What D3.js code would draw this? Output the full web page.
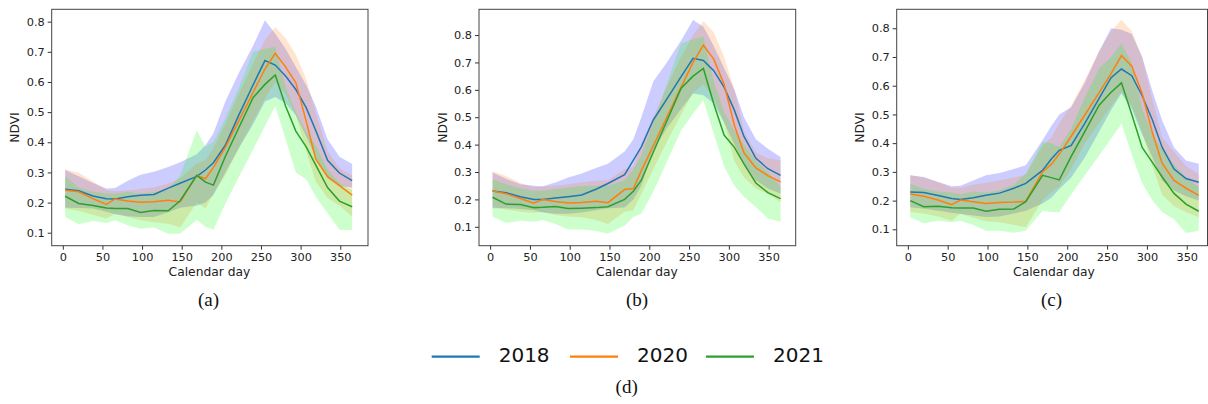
<!DOCTYPE html>
<html>
<head>
<meta charset="utf-8">
<script src="https://cdn.jsdelivr.net/npm/d3@7"></script>
<style>
  body { margin: 0; background: #fff; }
  svg { display: block; }
</style>
</head>
<body>
<div id="chart"></div>
<script>
const width = 1208
const height = 404

// calendar days of the composites (same for every panel)
const days = [3, 20, 38, 55, 66, 82, 98, 115, 133, 148, 169, 180, 190, 205, 222, 240, 255, 268, 281, 294, 307, 319, 334, 349, 365]
const years = ["2018", "2020", "2021"]
const xTicks = [0, 50, 100, 150, 200, 250, 300, 350]
const yTicks = [0.1, 0.2, 0.3, 0.4, 0.5, 0.6, 0.7, 0.8]
const captions = ["(a)", "(b)", "(c)"]

// panel (a): mean NDVI and band (lo / hi)
const a2018   = [0.244,0.239,0.222,0.213,0.212,0.219,0.224,0.227,0.248,0.264,0.287,0.308,0.332,0.39,0.49,0.59,0.671,0.656,0.62,0.575,0.515,0.44,0.34,0.298,0.273]
const a2018Lo = [0.183,0.182,0.18,0.17,0.161,0.155,0.152,0.152,0.168,0.183,0.19,0.2,0.225,0.3,0.38,0.46,0.535,0.55,0.53,0.49,0.42,0.35,0.28,0.255,0.25]
const a2018Hi = [0.308,0.287,0.265,0.247,0.248,0.272,0.292,0.302,0.318,0.334,0.36,0.39,0.43,0.535,0.63,0.72,0.805,0.76,0.71,0.65,0.59,0.52,0.41,0.352,0.328]
const a2020   = [0.241,0.236,0.213,0.194,0.212,0.205,0.201,0.203,0.208,0.202,0.29,0.279,0.317,0.383,0.471,0.565,0.643,0.695,0.65,0.597,0.47,0.345,0.286,0.256,0.225]
const a2020Lo = [0.18,0.172,0.16,0.147,0.163,0.152,0.141,0.135,0.13,0.117,0.2,0.18,0.23,0.29,0.38,0.47,0.545,0.6,0.56,0.49,0.37,0.27,0.215,0.19,0.153]
const a2020Hi = [0.31,0.299,0.27,0.241,0.238,0.24,0.245,0.25,0.263,0.28,0.33,0.34,0.38,0.46,0.56,0.66,0.74,0.782,0.745,0.69,0.61,0.5,0.37,0.315,0.29]
const a2021   = [0.221,0.197,0.19,0.182,0.18,0.18,0.167,0.174,0.173,0.206,0.29,0.268,0.258,0.353,0.448,0.548,0.592,0.623,0.52,0.437,0.385,0.325,0.25,0.205,0.186]
const a2021Lo = [0.152,0.128,0.139,0.132,0.141,0.125,0.113,0.117,0.097,0.097,0.142,0.12,0.11,0.196,0.284,0.376,0.454,0.52,0.41,0.3,0.277,0.22,0.165,0.11,0.108]
const a2021Hi = [0.288,0.25,0.236,0.23,0.23,0.236,0.23,0.235,0.245,0.29,0.44,0.385,0.4,0.48,0.58,0.7,0.71,0.717,0.585,0.5,0.435,0.39,0.31,0.265,0.24]

// panel (b)
const b2018   = [0.231,0.224,0.21,0.2,0.2,0.205,0.21,0.216,0.237,0.258,0.29,0.343,0.392,0.49,0.566,0.648,0.715,0.707,0.67,0.61,0.525,0.43,0.35,0.312,0.288]
const b2018Lo = [0.168,0.168,0.165,0.16,0.152,0.148,0.148,0.152,0.16,0.168,0.17,0.2,0.25,0.38,0.46,0.53,0.587,0.58,0.55,0.48,0.4,0.33,0.27,0.24,0.221]
const b2018Hi = [0.298,0.275,0.255,0.25,0.248,0.262,0.28,0.295,0.315,0.33,0.375,0.42,0.5,0.63,0.7,0.78,0.855,0.83,0.76,0.68,0.6,0.5,0.42,0.385,0.355]
const b2020   = [0.231,0.221,0.203,0.186,0.2,0.192,0.187,0.189,0.193,0.188,0.236,0.24,0.305,0.395,0.5,0.61,0.7,0.763,0.712,0.62,0.47,0.37,0.315,0.287,0.264]
const b2020Lo = [0.172,0.163,0.155,0.15,0.155,0.143,0.138,0.135,0.125,0.11,0.155,0.16,0.22,0.31,0.41,0.51,0.59,0.62,0.57,0.48,0.34,0.28,0.24,0.22,0.19]
const b2020Hi = [0.303,0.285,0.26,0.244,0.246,0.25,0.255,0.262,0.268,0.27,0.31,0.32,0.4,0.5,0.61,0.72,0.8,0.85,0.81,0.72,0.6,0.45,0.37,0.35,0.343]
const b2021   = [0.208,0.183,0.181,0.17,0.171,0.174,0.167,0.168,0.17,0.173,0.2,0.23,0.27,0.372,0.486,0.606,0.65,0.678,0.549,0.435,0.39,0.33,0.26,0.225,0.203]
const b2021Lo = [0.138,0.114,0.122,0.118,0.125,0.11,0.09,0.09,0.085,0.075,0.105,0.136,0.148,0.228,0.337,0.452,0.514,0.562,0.44,0.32,0.25,0.21,0.172,0.13,0.118]
const b2021Hi = [0.274,0.256,0.24,0.232,0.232,0.238,0.243,0.249,0.25,0.25,0.27,0.31,0.36,0.48,0.62,0.77,0.785,0.794,0.63,0.52,0.45,0.4,0.343,0.3,0.246]

// panel (c)
const c2018   = [0.23,0.228,0.218,0.207,0.204,0.21,0.219,0.226,0.243,0.26,0.305,0.345,0.375,0.392,0.469,0.556,0.628,0.658,0.635,0.565,0.48,0.386,0.31,0.277,0.264]
const c2018Lo = [0.177,0.172,0.165,0.158,0.153,0.148,0.143,0.145,0.155,0.165,0.19,0.21,0.24,0.28,0.35,0.44,0.515,0.573,0.52,0.43,0.35,0.27,0.235,0.215,0.2]
const c2018Hi = [0.288,0.282,0.265,0.25,0.252,0.27,0.288,0.296,0.31,0.323,0.41,0.46,0.5,0.525,0.61,0.72,0.8,0.795,0.78,0.7,0.58,0.48,0.385,0.34,0.328]
const c2020   = [0.223,0.215,0.202,0.186,0.202,0.196,0.19,0.193,0.195,0.198,0.3,0.326,0.362,0.424,0.498,0.576,0.642,0.705,0.668,0.573,0.435,0.33,0.27,0.243,0.218]
const c2020Lo = [0.16,0.155,0.145,0.13,0.155,0.14,0.128,0.125,0.115,0.107,0.2,0.23,0.25,0.31,0.4,0.47,0.53,0.58,0.53,0.44,0.32,0.22,0.18,0.16,0.142]
const c2020Hi = [0.288,0.28,0.265,0.245,0.245,0.255,0.262,0.27,0.28,0.29,0.39,0.42,0.47,0.53,0.62,0.72,0.79,0.83,0.79,0.7,0.55,0.42,0.37,0.32,0.293]
const c2021   = [0.2,0.179,0.18,0.175,0.174,0.174,0.163,0.17,0.171,0.196,0.288,0.28,0.272,0.354,0.44,0.532,0.577,0.61,0.5,0.385,0.332,0.283,0.225,0.188,0.163]
const c2021Lo = [0.142,0.121,0.13,0.125,0.13,0.115,0.095,0.095,0.088,0.095,0.165,0.16,0.16,0.222,0.288,0.357,0.415,0.468,0.36,0.26,0.2,0.16,0.135,0.087,0.095]
const c2021Hi = [0.259,0.24,0.232,0.228,0.222,0.232,0.228,0.235,0.255,0.294,0.405,0.4,0.387,0.45,0.56,0.66,0.7,0.748,0.68,0.52,0.43,0.38,0.325,0.28,0.247]

const lineColors = ["#1f77b4", "#ff7f0e", "#2ca02c"]
const bandColors = ["#0000ff", "#ff7f0e", "#00ff00"]

const plotTop = 9.3, plotBottom = 245.7

const panels = [
  {left: 51.7, right: 368,    xdom: [-14, 385], ydom: [0.057, 0.841], ylabX: 15,  capX: 208.5, labX: 209.5,
   series: [[a2018, a2018Lo, a2018Hi], [a2020, a2020Lo, a2020Hi], [a2021, a2021Lo, a2021Hi]]},
  {left: 479,  right: 795.7,  xdom: [-14, 384], ydom: [0.031, 0.894], ylabX: 443, capX: 637,   labX: 637,
   series: [[b2018, b2018Lo, b2018Hi], [b2020, b2020Lo, b2020Hi], [b2021, b2021Lo, b2021Hi]]},
  {left: 896.7, right: 1207.5, xdom: [-14, 376], ydom: [0.043, 0.866], ylabX: 860, capX: 1051.5, labX: 1054,
   series: [[c2018, c2018Lo, c2018Hi], [c2020, c2020Lo, c2020Hi], [c2021, c2021Lo, c2021Hi]]}
]

const svg = d3.select("#chart")
  .append("svg")
  .attr("width", width)
  .attr("height", height)
  .attr("viewBox", [0, 0, width, height])

const tickFont = "DejaVu Sans, sans-serif"

panels.forEach((p, k) => {
  const x = d3.scaleLinear().domain(p.xdom).range([p.left, p.right])
  const y = d3.scaleLinear().domain(p.ydom).range([plotBottom, plotTop])
  const g = svg.append("g")
  const idx = d3.range(days.length)

  // bands first, then the mean lines on top
  p.series.forEach((s, i) => {
    const area = d3.area()
      .x(j => x(days[j]))
      .y0(j => y(s[1][j]))
      .y1(j => y(s[2][j]))
    g.append("path")
      .datum(idx)
      .attr("d", area)
      .attr("fill", bandColors[i])
      .attr("fill-opacity", 0.2)
  })
  p.series.forEach((s, i) => {
    const line = d3.line()
      .x(j => x(days[j]))
      .y(j => y(s[0][j]))
    g.append("path")
      .datum(idx)
      .attr("d", line)
      .attr("fill", "none")
      .attr("stroke", lineColors[i])
      .attr("stroke-width", 1.5)
  })

  const xAxis = g.append("g")
    .attr("transform", `translate(0,${plotBottom})`)
    .call(d3.axisBottom(x).tickValues(xTicks).tickSize(4).tickPadding(3).tickSizeOuter(0))
  const yAxis = g.append("g")
    .attr("transform", `translate(${p.left},0)`)
    .call(d3.axisLeft(y).tickValues(yTicks).tickFormat(d3.format(".1f")).tickSize(4).tickPadding(3).tickSizeOuter(0))
  ;[xAxis, yAxis].forEach(a => {
    a.select(".domain").remove()
    a.selectAll("line").attr("stroke", "#333")
    a.selectAll("text")
      .attr("fill", "#222")
      .attr("font-family", tickFont)
      .attr("font-size", "11.3px")
  })

  // frame
  g.append("rect")
    .attr("x", p.left)
    .attr("y", plotTop)
    .attr("width", p.right - p.left)
    .attr("height", plotBottom - plotTop)
    .attr("fill", "none")
    .attr("stroke", "#444")
    .attr("stroke-width", 1)

  g.append("text")
    .attr("x", p.labX)
    .attr("y", 272.5)
    .attr("text-anchor", "middle")
    .attr("dominant-baseline", "middle")
    .attr("font-family", tickFont)
    .attr("font-size", "12.3px")
    .attr("fill", "#222")
    .text("Calendar day")

  g.append("text")
    .attr("transform", `translate(${p.ylabX},${(plotTop + plotBottom) / 2}) rotate(-90)`)
    .attr("text-anchor", "middle")
    .attr("dominant-baseline", "middle")
    .attr("font-family", tickFont)
    .attr("font-size", "12.3px")
    .attr("fill", "#222")
    .text("NDVI")

  svg.append("text")
    .attr("x", p.capX)
    .attr("y", 301.5)
    .attr("text-anchor", "middle")
    .attr("dominant-baseline", "middle")
    .attr("font-family", "Liberation Serif, serif")
    .attr("font-size", "19px")
    .attr("fill", "#111")
    .text(captions[k])
})

// legend (d)
const legendX = [431.7, 570, 706]
const legend = svg.append("g")
years.forEach((yr, i) => {
  legend.append("line")
    .attr("x1", legendX[i])
    .attr("x2", legendX[i] + 48)
    .attr("y1", 356.7)
    .attr("y2", 356.7)
    .attr("stroke", lineColors[i])
    .attr("stroke-width", 2.2)
  legend.append("text")
    .attr("x", legendX[i] + 67)
    .attr("y", 356.7)
    .attr("dominant-baseline", "middle")
    .attr("font-family", tickFont)
    .attr("font-size", "20px")
    .attr("fill", "#111")
    .text(yr)
})
svg.append("text")
  .attr("x", 626.7)
  .attr("y", 388.5)
  .attr("text-anchor", "middle")
  .attr("dominant-baseline", "middle")
  .attr("font-family", "Liberation Serif, serif")
  .attr("font-size", "19px")
  .attr("fill", "#111")
  .text("(d)")
</script>
</body>
</html>
